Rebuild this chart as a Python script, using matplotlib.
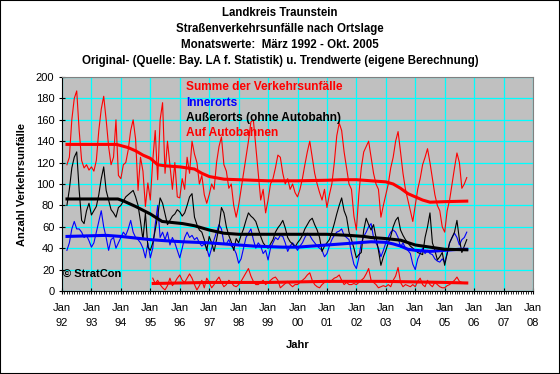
import numpy as np
import pandas as pd
import matplotlib
matplotlib.use('Agg')
import matplotlib.pyplot as plt
from matplotlib.patches import Rectangle
from matplotlib.ticker import MultipleLocator

plt.rcParams['font.family'] = ['Liberation Sans', 'DejaVu Sans']

# monthly values, Mar 1992 - Oct 2005
summe = [
    118, 125, 160, 180, 187, 150, 122, 115, 118, 113,
    116, 112, 122, 150, 170, 182, 160, 135, 118, 125, 160, 108,
    105, 118, 120, 132, 150, 160, 142, 94, 125, 112, 79, 101,
    85, 122, 150, 104, 160, 176, 110, 140, 117, 95, 120, 88,
    87, 105, 95, 125, 110, 140, 128, 120, 100, 108, 90, 82,
    90, 100, 95, 120, 135, 144, 118, 112, 96, 100, 80, 69,
    80, 95, 110, 125, 140, 158, 160, 135, 110, 85, 95, 73,
    85, 100, 105, 115, 127, 125, 110, 100, 105, 95, 100, 92,
    88, 95, 105, 118, 130, 140, 125, 110, 100, 92, 85, 95,
    78, 90, 100, 120, 145, 157, 150, 130, 115, 100, 95, 70,
    57, 90, 115, 130, 135, 140, 125, 110, 100, 95, 69, 80,
    90, 100, 115, 125, 140, 149, 130, 110, 95, 85, 75, 65,
    80, 95, 105, 118, 125, 133, 120, 105, 90, 80, 75, 60,
    55, 75, 85, 100, 115, 129, 120, 96, 100, 106,
]
innerorts = [
    38, 45, 58, 65, 58, 58, 55, 50, 52, 47,
    41, 45, 55, 65, 75, 60, 50, 38, 48, 50, 40, 45,
    50, 55, 52, 58, 66, 55, 50, 48, 45, 40, 31, 45,
    31, 40, 62, 80, 50, 55, 48, 55, 43, 50, 45, 38,
    31, 40, 50, 55, 50, 52, 48, 50, 45, 42, 44, 40,
    32, 40, 48, 55, 62, 58, 45, 44, 48, 42, 40, 35,
    26, 30, 40, 50, 54, 58, 48, 40, 45, 42, 35, 38,
    29, 40, 45, 50, 48, 52, 51, 45, 37, 42, 45, 42,
    38, 42, 45, 50, 54, 52, 48, 45, 42, 40, 38, 32,
    35, 42, 48, 52, 55, 56, 58, 52, 50, 48, 35, 25,
    21, 31, 45, 51, 55, 60, 63, 50, 45, 40, 32, 38,
    45, 50, 55, 57, 55, 50, 41, 45, 40, 38, 35, 25,
    20, 30, 35, 40, 35, 38, 35, 34, 30, 28, 27, 30,
    27, 35, 45, 50, 54, 50, 43, 48, 50, 55,
]
ausserorts = [
    80, 95, 115, 125, 130, 94, 66, 63, 75, 82,
    71, 75, 79, 90, 105, 116, 94, 85, 76, 73, 69, 78,
    80, 84, 88, 90, 92, 94, 88, 80, 65, 48, 73, 41,
    38, 45, 57, 70, 87, 82, 72, 62, 66, 70, 72, 76,
    74, 70, 73, 80, 88, 91, 69, 62, 57, 55, 48, 38,
    51, 45, 37, 48, 60, 78, 73, 60, 52, 46, 38, 49,
    45, 52, 58, 66, 73, 70, 68, 65, 58, 51, 45, 42,
    40, 44, 48, 55, 59, 62, 66, 59, 50, 46, 44, 41,
    45, 48, 52, 58, 62, 66, 68, 62, 57, 50, 37, 42,
    45, 48, 55, 63, 72, 80, 87, 75, 69, 55, 48, 40,
    31, 34, 36, 57, 68, 62, 57, 62, 50, 38, 24, 32,
    38, 45, 51, 60, 66, 69, 57, 52, 48, 45, 42, 40,
    38, 36, 35, 34, 50, 60, 73, 45, 38, 29, 32, 36,
    24, 35, 45, 50, 55, 66, 48, 36, 42, 48,
]
# Feb 1995 - Oct 2005
autobahn = [
    12, 7, 10, 6, 3, 1, 5, 12, 5, 8, 12,
    15, 10, 8, 12, 16, 12, 6, 1, 5, 10, 3, 12,
    8, 3, 6, 10, 13, 8, 4, 6, 10, 8, 5, 4,
    6, 9, 13, 17, 21, 14, 9, 6, 6, 8, 10, 6,
    8, 10, 12, 13, 10, 3, 5, 7, 9, 6, 4, 6,
    6, 8, 10, 12, 15, 17, 10, 6, 4, 3, 6, 8,
    10, 8, 10, 12, 13, 15, 10, 6, 8, 6, 6, 7,
    6, 8, 10, 12, 16, 21, 10, 8, 6, 3, 4, 5,
    4, 6, 4, 10, 14, 22, 8, 4, 6, 5, 4, 6,
    4, 9, 12, 6, 4, 10, 6, 4, 8, 6, 4, 3,
    3, 5, 6, 8, 10, 13, 9, 8, 7, 7,
]

# trend values (year, value)
trend_summe_x = [1992.17, 1993.0, 1993.85, 1994.25, 1994.5, 1994.75, 1995.0, 1995.25, 1995.5,
                 1996.0, 1996.5, 1996.75, 1997.0, 1997.5, 1998.0, 1998.5, 1999.0, 2000.0,
                 2001.0, 2001.5, 2002.0, 2002.5, 2003.0, 2003.25, 2003.5, 2003.75, 2004.0,
                 2004.25, 2004.5, 2005.0, 2005.75]
trend_summe = [137, 137, 137, 134, 131, 127, 124, 118, 117,
               116, 114, 110, 107, 104.5, 104, 103.5, 103, 103,
               103.5, 104, 104, 103, 102, 100, 96, 91, 88,
               85, 83, 83.5, 84]
trend_inner_x = [1992.17, 1993.5, 1994.0, 1994.5, 1995.0, 1995.5, 1996.1, 1997.0, 1997.5,
                 1998.0, 1998.5, 1999.5, 2000.0, 2000.5, 2001.0, 2001.5, 2002.0, 2002.5,
                 2003.0, 2003.25, 2003.5, 2003.75, 2004.0, 2004.5, 2005.0, 2005.5, 2005.75]
trend_inner = [51, 52, 51, 49.5, 48, 47, 46, 45, 44,
               43, 42, 41, 41, 42, 43, 44, 45, 46,
               45.5, 44, 42, 39, 38, 37, 38, 39, 39]
trend_ausser_x = [1992.17, 1993.9, 1994.1, 1994.5, 1995.0, 1995.4, 1995.75, 1996.1, 1996.5,
                  1997.0, 1997.5, 1998.0, 1999.0, 2000.0, 2001.0, 2001.75, 2002.25, 2002.5,
                  2003.0, 2003.5, 2004.0, 2004.5, 2005.0, 2005.75]
trend_ausser = [86, 86, 84, 79, 72, 65, 64, 63, 61,
                57, 54, 53, 53, 53, 53, 52, 51, 50,
                49, 47.5, 43, 41, 39, 38.5]
trend_auto_x = [1995.1, 1996.0, 1997.0, 1998.0, 1999.0, 2000.0, 2001.0, 2002.0, 2003.0,
                2004.0, 2005.0, 2005.75]
trend_auto = [7, 7.5, 8, 8, 8, 8.5, 9, 9, 9, 8.5, 8, 7.5]

legend_labels = ['Summe der Verkehrsunfälle', 'Innerorts',
                 'Außerorts (ohne Autobahn)', 'Auf Autobahnen']
legend_colors = ['#FF0000', '#0000FF', '#000000', '#FF0000']

months = pd.period_range('1992-03', '2005-10', freq='M')
x = months.year + (months.month - 1) / 12.0
months_ab = pd.period_range('1995-02', '2005-10', freq='M')
x_ab = months_ab.year + (months_ab.month - 1) / 12.0

W, H = 560, 374
fig = plt.figure(figsize=(W / 100, H / 100), dpi=100)
ax = fig.add_axes([62 / W, 1 - 291 / H, 471 / W, 214 / H])
ax.set_facecolor('#C0C0C0')

ax.plot(x, summe, color='#FF0000', lw=0.8)
ax.plot(x, innerorts, color='#0000FF', lw=0.8)
ax.plot(x, ausserorts, color='#000000', lw=0.8)
ax.plot(x_ab, autobahn, color='#FF0000', lw=0.8)

ax.plot(trend_summe_x, trend_summe, color='#FF0000', lw=2.2)
ax.plot(trend_inner_x, trend_inner, color='#0000FF', lw=2.2)
ax.plot(trend_ausser_x, trend_ausser, color='#000000', lw=2.2)
ax.plot(trend_auto_x, trend_auto, color='#FF0000', lw=2.2)

ax.set_xlim(1992, 2008)
ax.set_ylim(0, 200)
years = list(range(1992, 2009))
ax.set_xticks(years)
ax.set_xticklabels(['Jan\n%02d' % (y % 100) for y in years], linespacing=1.6)
ax.xaxis.set_minor_locator(MultipleLocator(1 / 12))
ax.set_yticks(range(0, 201, 20))
ax.grid(True, which='major', color='#00FFFF', lw=0.9)
ax.set_axisbelow(True)
ax.tick_params(axis='both', which='major', direction='inout', length=5, width=0.8,
               labelsize=8, colors='black')
ax.tick_params(axis='x', which='minor', direction='out', length=2, width=0.6)
ax.tick_params(axis='x', pad=6)
ax.tick_params(axis='y', pad=3)
for s in ['top', 'right']:
    ax.spines[s].set_color('#808080')
for s in ['left', 'bottom']:
    ax.spines[s].set_color('black')

ax.set_ylabel('Anzahl Verkehrsunfälle', fontsize=8, fontweight='bold', labelpad=6)
ax.set_xlabel('Jahr', fontsize=8, fontweight='bold', labelpad=9)

titles = ['Landkreis Traunstein', 'Straßenverkehrsunfälle nach Ortslage',
          'Monatswerte:  März 1992 - Okt. 2005',
          'Original- (Quelle: Bay. LA f. Statistik) u. Trendwerte (eigene Berechnung)']
for i, t in enumerate(titles):
    fig.text(0.5, 1 - (13 + 16 * i) / H, t, ha='center', va='center',
             fontsize=8.3, fontweight='bold')

for i, (lab, col) in enumerate(zip(legend_labels, legend_colors)):
    fig.text(186 / W, 1 - (87 + 15.5 * i) / H, lab, ha='left', va='center',
             fontsize=8.6, fontweight='bold', color=col)

ax.text(1992.05, 16, '© StratCon', fontsize=8, fontweight='bold', va='center')

fig.patches.append(Rectangle((0, 0), 1, 1, transform=fig.transFigure, fill=False,
                             ec='black', lw=1.5))
fig.savefig('out.png', dpi=100)
